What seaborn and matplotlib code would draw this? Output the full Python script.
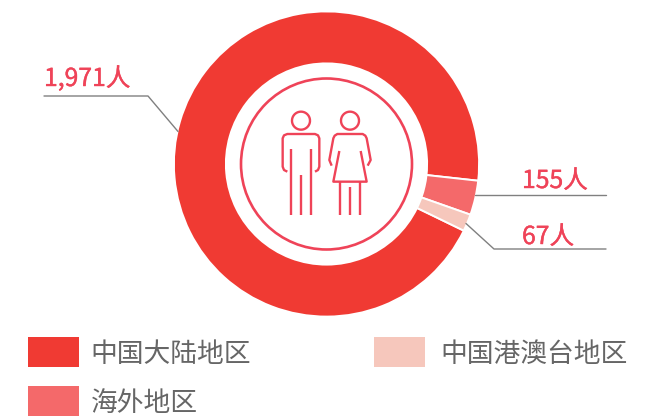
import numpy as np
import matplotlib
matplotlib.use('Agg')
import matplotlib.pyplot as plt
import matplotlib.patheffects as pe
from matplotlib.patches import Rectangle, Circle
import seaborn as sns

# regions, in legend order
regions = ['中国大陆地区', '海外地区', '中国港澳台地区']
# labels printed on the chart
count_labels = ['1,971人', '155人', '67人']
# angle of each slice (not proportional to the counts)
slice_degrees = [340.4, 13.1, 6.5]

colors = ['#F03A33', '#F4696A', '#F6C7BC']
accent = '#EF4358'
W, H = 659, 417

sns.set_theme(style='white')
plt.rcParams['font.family'] = ['Noto Sans CJK SC', 'DejaVu Sans']


# picture pixel (y down) to axes coords (y up)
def py(y):
    return H - np.asarray(y, dtype=float)


fig = plt.figure(figsize=(W / 100, H / 100), dpi=100)
ax = fig.add_axes([0, 0, 1, 1])

cx, cy, R = 326.5, 164, 152.6
ax.pie(slice_degrees, colors=colors, startangle=-25.9, counterclock=False,
       center=(cx, py(cy)), radius=R,
       wedgeprops={'width': 52, 'edgecolor': 'white', 'linewidth': 1.4})
ax.set_xlim(0, W)
ax.set_ylim(0, H)
ax.set_aspect('equal')
ax.axis('off')

# inner ring
ax.add_patch(Circle((cx, py(cy)), 85.5, facecolor='none', edgecolor=accent, lw=1.9))


# icon is traced in zoom-crop coordinates
def icon(xs, ys):
    xs = 230 + np.array(xs) / 3
    ys = 70 + np.array(ys) / 3
    ax.plot(xs, py(ys), color=accent, lw=1.7, solid_capstyle='butt', solid_joinstyle='round')


for hx in [213, 360]:
    t = np.linspace(0, 2 * np.pi, 91)
    icon(hx + 27 * np.cos(t), 152 + 27 * np.sin(t))

# man
icon([172, 162, 158, 158, 162, 172, 255, 264, 268, 268, 264, 255],
     [305, 300, 290, 205, 196, 192, 192, 196, 205, 290, 300, 305])
icon([183, 183], [238, 435])
icon([213, 213], [316, 435])
icon([242, 242], [238, 435])

# woman
icon([305, 298, 310, 314, 322, 398, 406, 410, 422, 413],
     [287, 270, 205, 197, 192, 192, 197, 205, 270, 287])
icon([328, 310, 410, 392], [243, 335, 335, 243])
icon([330, 330], [335, 435])
icon([360, 360], [350, 435])
icon([390, 390], [335, 435])

# leader lines
ax.plot([44, 148, 178], py([96, 96, 131.5]), color='#808080', lw=1)
ax.plot([475, 606], py([195, 195]), color='#808080', lw=1)
ax.plot([466, 494, 606], py([223.5, 249, 249]), color='#808080', lw=1)

# count labels
for (x, y), s in zip([(44, 86), (522, 188), (522, 244)], count_labels):
    ax.text(x, py(y), s, color=accent, fontsize=17.8, ha='left', va='baseline',
            path_effects=[pe.withStroke(linewidth=0.3, foreground=accent)])

# legend
for (x, y), s, c, tx in zip([(28, 337), (28, 386), (374, 337)], regions, colors, [90.5, 90.5, 440.5]):
    ax.add_patch(Rectangle((x, py(y + 29.5)), 51, 29.5, facecolor=c, edgecolor='none'))
    ax.text(tx, py(y + 17), s, color='#666666', fontsize=19.3, ha='left', va='center')

fig.savefig('out.png', dpi=100)
